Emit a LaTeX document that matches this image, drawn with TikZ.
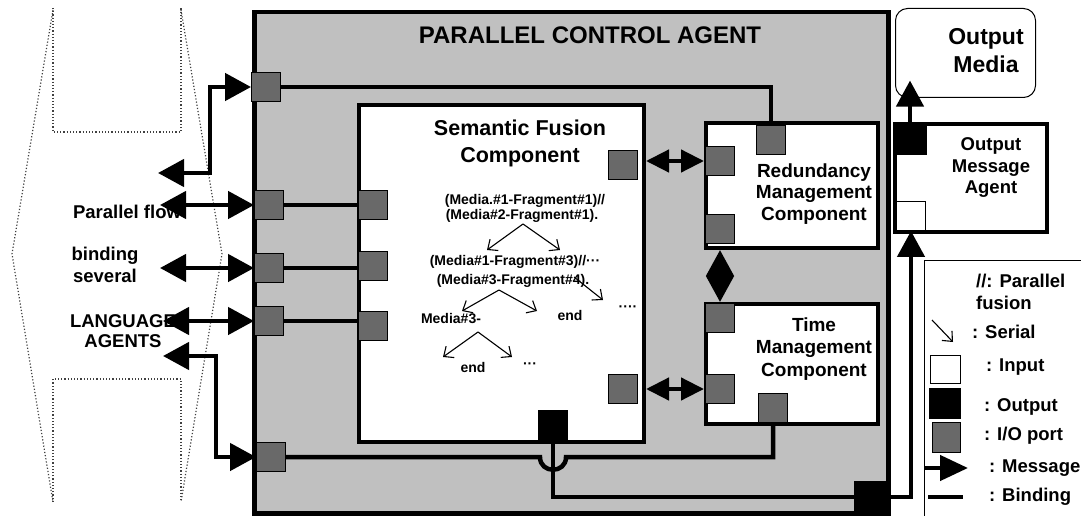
\documentclass[tikz,border=0pt]{standalone}
\usepackage{fontspec}
\setmainfont{Liberation Sans}
\usetikzlibrary{arrows.meta,calc}

\definecolor{agentgrey}{HTML}{C0C0C0}
\definecolor{portgrey}{HTML}{696969}

\tikzset{
  agent/.style={draw, line width=4.5pt, fill=agentgrey, anchor=north west, inner sep=0pt},
  comp/.style={draw, line width=4pt, fill=white, anchor=north west, inner sep=0pt},
  mediabox/.style={draw, line width=1pt, rounded corners=12pt, fill=white, anchor=north west, inner sep=0pt},
  port/.style={draw, line width=0.9pt, fill=portgrey, minimum size=29pt, inner sep=0pt},
  outport/.style={port, fill=black},
  inport/.style={port, fill=white},
  binding/.style={line width=4.5pt},
  msg/.style={line width=4.5pt, -{Triangle[length=26pt,width=27pt]}},
  msgboth/.style={line width=4.5pt, {Triangle[length=26pt,width=27pt]}-{Triangle[length=26pt,width=27pt]}},
  msgsmall/.style={line width=4.5pt, {Triangle[length=23pt,width=22pt]}-{Triangle[length=23pt,width=22pt]}},
  serial/.style={line width=1.1pt, -{Straight Barb[length=8pt,width=14pt]}},
  dotline/.style={dotted, line width=1.2pt, black!75},
  lbl/.style={font=\bfseries\fontsize{18.5}{21.5}\selectfont, align=center, inner sep=0pt},
  complbl/.style={lbl, font=\bfseries\fontsize{19}{21.5}\selectfont},
  treetext/.style={font=\bfseries\fontsize{14}{12.5}\selectfont, inner sep=0pt},
}

\begin{document}
\begin{tikzpicture}[x=1pt, y=-1pt]
\useasboundingbox (0,0) rectangle (1081,516);
\clip (0,0) rectangle (1081,516);

% dotted outline of the language agents
\draw[dotline] (53,8) -- (53,132) -- (181,132) -- (181,8);
\draw[dotline] (53,502) -- (53,379) -- (181,379) -- (181,502);
\draw[dotline] (53,10) -- (12,254) -- (53,502);
\draw[dotline] (181,10) -- (222,254) -- (181,502);

% agents and components
\node[agent, minimum width=634pt, minimum height=501pt] (pca) at (252,10) {};
\node[font=\bfseries\fontsize{24}{28}\selectfont, inner sep=0pt] (pcatitle) at (590,35) {PARALLEL CONTROL AGENT};
\node[comp, minimum width=285pt, minimum height=337pt] (sem) at (357,103) {};
\node[comp, minimum width=172pt, minimum height=125pt] (red) at (704,121) {};
\node[comp, minimum width=172pt, minimum height=120pt] (time) at (704,302) {};
\node[comp, minimum width=152pt, minimum height=108pt] (oma) at (893,122) {};
\node[mediabox, minimum width=140pt, minimum height=89pt] (media) at (895,8) {};

\node[lbl, font=\bfseries\fontsize{21.5}{27}\selectfont] (semtext) at (520,143) {Semantic Fusion\\Component};
\node[complbl] (redtext) at (814,194) {Redundancy\\Management\\Component};
\node[complbl, font=\bfseries\fontsize{19}{22.5}\selectfont] (timetext) at (814,349) {Time\\Management\\Component};
\node[lbl] (omatext) at (991,168) {Output\\Message\\Agent};
\node[lbl, font=\bfseries\fontsize{23}{28}\selectfont] (mediatext) at (986,51) {Output\\Media};

% language agent labels
\node[lbl] (flowtext) at (127,212) {Parallel flow};
\node[lbl, font=\bfseries\fontsize{18.5}{22.5}\selectfont] (bindtext) at (105,265) {binding\\several};
\node[lbl, font=\bfseries\fontsize{18.5}{20.5}\selectfont] (langtext) at (123,331) {LANGUAGE\\AGENTS};

% ports
\node[port] (p1) at (266,87) {};
\node[port] (p2) at (269,205) {};
\node[port] (p3) at (269,268) {};
\node[port] (p4) at (269,321) {};
\node[port] (p5) at (271,457) {};
\node[port] (sl1) at (373,205) {};
\node[port] (sl2) at (373,266) {};
\node[port] (sl3) at (373,326) {};
\node[port] (sr1) at (623,165) {};
\node[port] (sr2) at (623,389) {};
\node[outport] (sout) at (553,425) {};
\node[port] (rtop) at (771,140) {};
\node[port] (rleft) at (720,161) {};
\node[port] (rlow) at (720,229) {};
\node[port] (ttop) at (720,318) {};
\node[port] (tleft) at (720,389) {};
\node[port] (tlow) at (773,408) {};
\node[outport, minimum size=32pt] (omaout) at (910,138) {};
\node[inport] (omain) at (911,216) {};
\node[outport, minimum size=31pt] (pcaout) at (870,497) {};

% bindings
\draw[binding] (p1.east) -| (rtop.north);
\draw[binding] (p2.east) -- (p2.east -| sl1.west);
\draw[binding] (p3.east) -- (p3.east -| sl2.west);
\draw[binding] (p4.east) -- (p4.east -| sl3.west);
\draw[binding] (p5.east) -- ($(p5.east -| sout.center)+(-13,0)$)
  .. controls +(0,17) and +(0,17) .. ($(p5.east -| sout.center)+(13,0)$) -| (tlow.south);
\draw[binding] (sout.south) |- (pcaout.west);

% messages
\coordinate (a1) at (158,173);
\coordinate (a2) at (160,205);
\coordinate (a3) at (160,268);
\coordinate (a4) at (163,321);
\coordinate (a5) at (163,356);
\draw[msgboth] (a1) -- ++(52,0) |- (p1.west);
\draw[msgboth] (a2) -- (p2.west);
\draw[msgboth] (a3) -- (p3.west);
\draw[msgboth] (a4) -- (p4.west);
\draw[msgboth] (a5) -- ++(53,0) |- (p5.west);
\draw[msgsmall] (sem.east |- rleft) -- (red.west |- rleft);
\draw[msgsmall] (sem.east |- tleft) -- (time.west |- tleft);
\draw[msgboth] (red.south -| rlow) -- (time.north -| rlow);
\draw[msg] (pcaout.east) -| (omain.south);
\draw[msg] (omaout.north) -- ++(0,-41);

% fusion tree
\node[treetext] (f1) at (525,201) {(Media.\#1-Fragment\#1)//};
\node[treetext] (f2) at (522,216) {(Media\#2-Fragment\#1).};
\node[treetext] (f3) at (515,262) {(Media\#1-Fragment\#3)//···};
\node[treetext] (f4) at (513,281) {(Media\#3-Fragment\#4).};
\node[treetext] (f5) at (451,319) {Media\#3-};
\node[treetext] (f6) at (570,315) {end};
\node[treetext] (f7) at (628,309) {····};
\node[treetext] (f8) at (473,367) {end};
\node[treetext] (f9) at (530,366) {···};
\coordinate (s1) at (523,224);
\coordinate (s2) at (499,290);
\coordinate (s3) at (574,277);
\coordinate (s4) at (478,332);
\draw[serial] (s1) -- ++(-36,26);
\draw[serial] (s1) -- ++(37,26);
\draw[serial] (s2) -- ++(-37,21);
\draw[serial] (s2) -- ++(38,21);
\draw[serial] (s3) -- ++(29,23);
\draw[serial] (s4) -- ++(-35,25);
\draw[serial] (s4) -- ++(34,25);

% legend
\draw[line width=1pt] (1090,260) -| (924,530);
\node[lbl, align=left, anchor=west] (lgpar) at (976,292) {//: Parallel\\fusion};
\coordinate (lgs) at (932,320);
\draw[serial] (lgs) -- ++(21,22);
\node[lbl, anchor=west] (lgser) at (972,332) {: Serial};
\node[inport, minimum width=30pt, minimum height=28pt] (lgin) at (945,369) {};
\node[lbl, anchor=west] (lgintext) at (986,367) {: Input};
\node[outport, minimum width=31pt, minimum height=30pt] (lgout) at (945,403) {};
\node[lbl, anchor=west] (lgouttext) at (984,407) {: Output};
\node[port, minimum width=28pt, minimum height=30pt] (lgio) at (946,437) {};
\node[lbl, anchor=west] (lgiotext) at (984,436) {: I/O port};
\coordinate (lgm) at (925,468);
\draw[msg, -{Triangle[length=28pt,width=25pt]}] (lgm) -- ++(43,0);
\node[lbl, anchor=west] (lgmtext) at (989,468) {: Message};
\coordinate (lgb) at (928,497);
\draw[binding] (lgb) -- ++(35,0);
\node[lbl, anchor=west] (lgbtext) at (989,497) {: Binding};

\end{tikzpicture}
\end{document}
